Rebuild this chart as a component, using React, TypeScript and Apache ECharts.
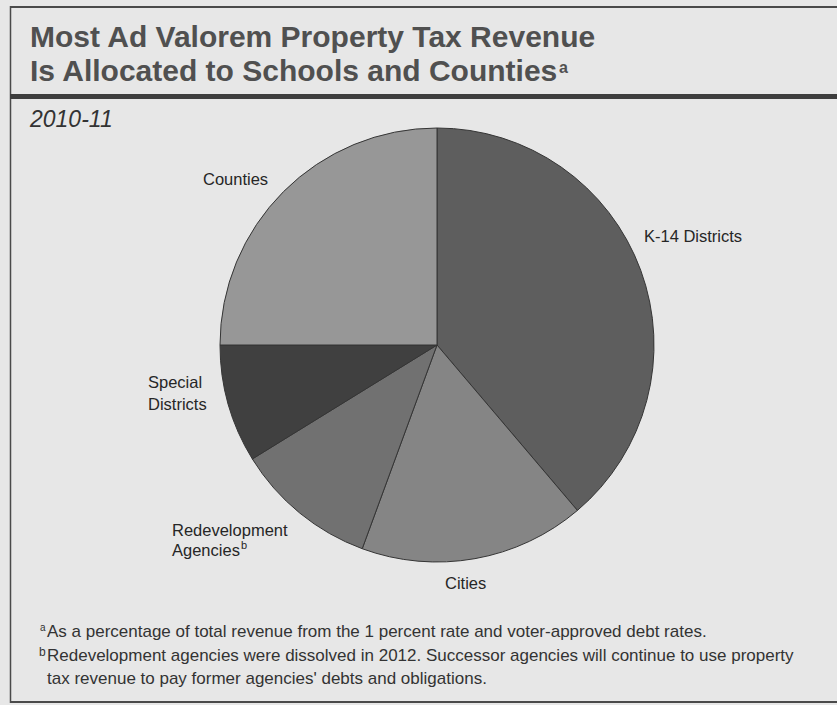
import React, { useEffect, useRef } from "react";
import * as echarts from "echarts";

const categories = ["K-14 Districts", "Cities", "Redevelopment Agencies", "Special Districts", "Counties"];
const shares = [38.8, 16.8, 10.6, 8.8, 25.0];
const sliceColors = ["#5e5e5e", "#858585", "#717171", "#404040", "#979797"];

const titleLines = ["Most Ad Valorem Property Tax Revenue", "Is Allocated to Schools and Counties"];
const subtitle = "2010-11";
const footnotes = [
  "As a percentage of total revenue from the 1 percent rate and voter-approved debt rates.",
  "Redevelopment agencies were dissolved in 2012. Successor agencies will continue to use property",
  "tax revenue to pay former agencies' debts and obligations.",
];

export default function App() {
  const ref = useRef<HTMLDivElement>(null);
  useEffect(() => {
    if (!ref.current) return;
    const chart = echarts.init(ref.current, null, { renderer: "svg" });
    const font = "'Liberation Sans', Arial, sans-serif";
    const labelStyle = { fill: "#262626", font: `16.5px ${font}` };
    const noteStyle = { fill: "#333", font: `17px ${font}` };
    chart.setOption({
      animation: false,
      backgroundColor: "#e7e7e7",
      series: [
        {
          type: "pie",
          center: [437, 345],
          radius: 217,
          startAngle: 90,
          clockwise: true,
          label: { show: false },
          labelLine: { show: false },
          emphasis: { disabled: true },
          itemStyle: { borderColor: "#353535", borderWidth: 1 },
          data: categories.map((c, i) => ({ name: c, value: shares[i], itemStyle: { color: sliceColors[i] } })),
        },
      ],
      graphic: [
        { type: "line", shape: { x1: 10, y1: 7, x2: 837, y2: 7 }, style: { stroke: "#4a4a4a", lineWidth: 2 } },
        { type: "line", shape: { x1: 10.5, y1: 6, x2: 10.5, y2: 703 }, style: { stroke: "#4a4a4a", lineWidth: 1.5 } },
        { type: "line", shape: { x1: 10, y1: 702, x2: 837, y2: 702 }, style: { stroke: "#4a4a4a", lineWidth: 2 } },
        { type: "rect", shape: { x: 10, y: 94, width: 827, height: 5 }, style: { fill: "#3e3e3e" } },
        { type: "text", x: 30, y: 21, style: { text: titleLines[0], fill: "#505050", font: `bold 30px ${font}` } },
        { type: "text", x: 30, y: 55, style: { text: titleLines[1], fill: "#505050", font: `bold 30px ${font}` } },
        { type: "text", x: 559, y: 59, style: { text: "a", fill: "#505050", font: `bold 16px ${font}` } },
        { type: "text", x: 30, y: 107, style: { text: subtitle, fill: "#333", font: `italic 23px ${font}` } },
        { type: "text", x: 203, y: 170, style: { text: categories[4], ...labelStyle } },
        { type: "text", x: 644, y: 227, style: { text: categories[0], ...labelStyle } },
        { type: "text", x: 148, y: 371, style: { text: "Special\nDistricts", lineHeight: 22, ...labelStyle } },
        { type: "text", x: 172, y: 521, style: { text: "Redevelopment", ...labelStyle } },
        { type: "text", x: 172, y: 541, style: { text: "Agencies", ...labelStyle } },
        { type: "text", x: 241, y: 539, style: { text: "b", fill: "#262626", font: `11px ${font}` } },
        { type: "text", x: 445, y: 574, style: { text: categories[1], ...labelStyle } },
        { type: "text", x: 40, y: 622, style: { text: "a", fill: "#333", font: `10px ${font}` } },
        { type: "text", x: 47, y: 623, style: { text: footnotes[0], ...noteStyle } },
        { type: "text", x: 39, y: 646, style: { text: "b", fill: "#333", font: `12px ${font}` } },
        { type: "text", x: 47, y: 647, style: { text: footnotes[1], ...noteStyle } },
        { type: "text", x: 47, y: 670, style: { text: footnotes[2], ...noteStyle } },
      ],
    });
    return () => chart.dispose();
  }, []);
  return <div ref={ref} style={{ position: "fixed", left: 0, top: 0, width: 837, height: 705 }} />;
}
